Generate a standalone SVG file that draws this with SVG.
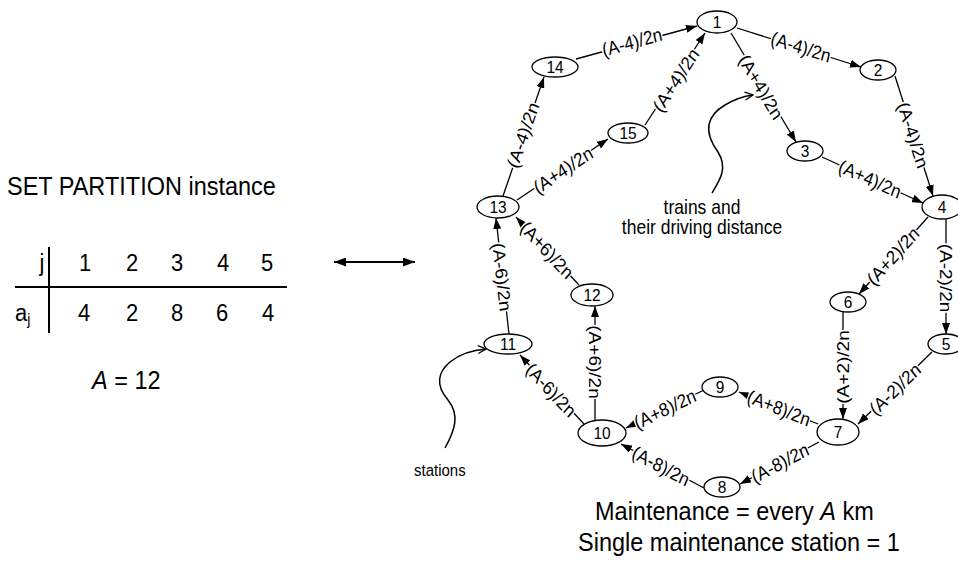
<svg xmlns="http://www.w3.org/2000/svg" width="958" height="578" viewBox="0 0 958 578">
<style>
text{font-family:"Liberation Sans",Arial,sans-serif;fill:#000}
.node ellipse{fill:#fff;stroke:#000;stroke-width:1.3}
.node text{font-size:15.5px;text-anchor:middle}
.edge{stroke:#000;stroke-width:1.3;fill:none;marker-end:url(#ah)}
.lbl rect{fill:#fff}
.lbl text{font-size:17px;text-anchor:middle}
.big{font-size:23.5px}
.tbl{font-size:22px;text-anchor:middle}
.mid{text-anchor:middle}
.curve{stroke:#000;stroke-width:1.5;fill:none;marker-end:url(#oa)}
</style>
<defs>
<marker id="ah" viewBox="0 0 11 8" refX="11" refY="4" markerWidth="11" markerHeight="8" orient="auto" markerUnits="userSpaceOnUse"><path d="M0,0 L11,4 L0,8 z" fill="#000"/></marker>
<marker id="ah2" viewBox="0 0 12 9" refX="12" refY="4.5" markerWidth="12" markerHeight="9" orient="auto-start-reverse" markerUnits="userSpaceOnUse"><path d="M0,0 L12,4.5 L0,9 z" fill="#000"/></marker>
<marker id="oa" viewBox="0 0 10 10" refX="9" refY="5" markerWidth="10" markerHeight="10" orient="auto" markerUnits="userSpaceOnUse"><path d="M1,1 L9,5 L1,9" fill="none" stroke="#000" stroke-width="1.3"/></marker>
</defs>
<rect width="958" height="578" fill="#fff"/>

<g id="left-panel">
<text class="big" transform="translate(7,194.5) scale(1,1.12)">SET PARTITION instance</text>
<line x1="49" y1="247" x2="49" y2="333" stroke="#000" stroke-width="2"/>
<line x1="15" y1="287" x2="287" y2="287" stroke="#000" stroke-width="2"/>
<text class="tbl" transform="translate(42,271) scale(1,1.12)">j</text>
<text class="tbl" transform="translate(85,271) scale(1,1.12)">1</text>
<text class="tbl" transform="translate(132,271) scale(1,1.12)">2</text>
<text class="tbl" transform="translate(177,271) scale(1,1.12)">3</text>
<text class="tbl" transform="translate(223,271) scale(1,1.12)">4</text>
<text class="tbl" transform="translate(267,271) scale(1,1.12)">5</text>
<text style="font-size:22px" transform="translate(15,321) scale(1,1.12)">a<tspan font-size="14" dy="4">j</tspan></text>
<text class="tbl" transform="translate(84,321) scale(1,1.12)">4</text>
<text class="tbl" transform="translate(132,321) scale(1,1.12)">2</text>
<text class="tbl" transform="translate(177,321) scale(1,1.12)">8</text>
<text class="tbl" transform="translate(222,321) scale(1,1.12)">6</text>
<text class="tbl" transform="translate(268,321) scale(1,1.12)">4</text>
<text class="big" transform="translate(92,389) scale(1,1.12)"><tspan font-style="italic">A</tspan> = 12</text>
<line x1="334" y1="262" x2="415" y2="262" stroke="#000" stroke-width="2" marker-start="url(#ah2)" marker-end="url(#ah2)"/>
</g>

<g id="connectors">
<line class="edge" x1="576" y1="59" x2="697" y2="26"/>
<line class="edge" x1="737" y1="28" x2="861" y2="67"/>
<line class="edge" x1="731" y1="33" x2="796" y2="142"/>
<line class="edge" x1="895" y1="76" x2="933" y2="196"/>
<line class="edge" x1="822" y1="157" x2="923" y2="203"/>
<line class="edge" x1="946" y1="219" x2="946" y2="334"/>
<line class="edge" x1="928" y1="217" x2="859" y2="294"/>
<line class="edge" x1="843" y1="312" x2="843" y2="419"/>
<line class="edge" x1="932" y1="352" x2="858" y2="424"/>
<line class="edge" x1="818" y1="424" x2="739" y2="392"/>
<line class="edge" x1="819" y1="442" x2="740" y2="484"/>
<line class="edge" x1="704" y1="390" x2="626" y2="428"/>
<line class="edge" x1="704" y1="488" x2="621" y2="444"/>
<line class="edge" x1="584" y1="424" x2="520" y2="355"/>
<line class="edge" x1="595" y1="420" x2="595" y2="306"/>
<line class="edge" x1="579" y1="285" x2="516" y2="217"/>
<line class="edge" x1="509" y1="334" x2="496" y2="218"/>
<line class="edge" x1="503" y1="196" x2="544" y2="77"/>
<line class="edge" x1="517" y1="200" x2="608" y2="139"/>
<line class="edge" x1="645" y1="125" x2="705" y2="33"/>
<path class="curve" d="M712,193 C720,180 728,168 718,152 C702,130 708,115 725,105 C735,99 745,96 753,95"/>
<path class="curve" d="M445,448 C455,430 460,415 448,400 C435,385 438,372 450,362 C460,354 472,350 486,349"/>
</g>

<g id="labels">
<g class="lbl" transform="translate(632,42) scale(1,1.12) rotate(-13.9)"><rect x="-31" y="-7" width="62" height="14"/><text y="6">(A-4)/2n</text></g>
<g class="lbl" transform="translate(801,47) scale(1,1.12) rotate(15.8)"><rect x="-31" y="-7" width="62" height="14"/><text y="6">(A-4)/2n</text></g>
<g class="lbl" transform="translate(761,87) scale(1,1.12) rotate(56.7)"><rect x="-33" y="-7" width="66" height="14"/><text y="6">(A+4)/2n</text></g>
<g class="lbl" transform="translate(913,135) scale(1,1.12) rotate(70.4)"><rect x="-31" y="-7" width="62" height="14"/><text y="6">(A-4)/2n</text></g>
<g class="lbl" transform="translate(870,179) scale(1,1.12) rotate(22.1)"><rect x="-33" y="-7" width="66" height="14"/><text y="6">(A+4)/2n</text></g>
<g class="lbl" transform="translate(946,278) scale(1,1.12) rotate(90)"><rect x="-31" y="-7" width="62" height="14"/><text y="6">(A-2)/2n</text></g>
<g class="lbl" transform="translate(893,256) scale(1,1.12) rotate(-44.8)"><rect x="-33" y="-7" width="66" height="14"/><text y="6">(A+2)/2n</text></g>
<g class="lbl" transform="translate(843,367) scale(1,1.12) rotate(-90)"><rect x="-33" y="-7" width="66" height="14"/><text y="6">(A+2)/2n</text></g>
<g class="lbl" transform="translate(895,389) scale(1,1.12) rotate(-41)"><rect x="-31" y="-7" width="62" height="14"/><text y="6">(A-2)/2n</text></g>
<g class="lbl" transform="translate(779,408) scale(1,1.12) rotate(19.8)"><rect x="-33" y="-7" width="66" height="14"/><text y="6">(A+8)/2n</text></g>
<g class="lbl" transform="translate(780,463) scale(1,1.12) rotate(-25.4)"><rect x="-31" y="-7" width="62" height="14"/><text y="6">(A-8)/2n</text></g>
<g class="lbl" transform="translate(665,409) scale(1,1.12) rotate(-23.5)"><rect x="-33" y="-7" width="66" height="14"/><text y="6">(A+8)/2n</text></g>
<g class="lbl" transform="translate(661,466) scale(1,1.12) rotate(25.4)"><rect x="-31" y="-7" width="62" height="14"/><text y="6">(A-8)/2n</text></g>
<g class="lbl" transform="translate(551,390) scale(1,1.12) rotate(43.8)"><rect x="-31" y="-7" width="62" height="14"/><text y="6">(A-6)/2n</text></g>
<g class="lbl" transform="translate(595,362) scale(1,1.12) rotate(90)"><rect x="-33" y="-7" width="66" height="14"/><text y="6">(A+6)/2n</text></g>
<g class="lbl" transform="translate(547,250) scale(1,1.12) rotate(44)"><rect x="-33" y="-7" width="66" height="14"/><text y="6">(A+6)/2n</text></g>
<g class="lbl" transform="translate(502,277) scale(1,1.12) rotate(82.8)"><rect x="-31" y="-7" width="62" height="14"/><text y="6">(A-6)/2n</text></g>
<g class="lbl" transform="translate(523,135) scale(1,1.12) rotate(-68.9)"><rect x="-31" y="-7" width="62" height="14"/><text y="6">(A-4)/2n</text></g>
<g class="lbl" transform="translate(563,170) scale(1,1.12) rotate(-30.9)"><rect x="-33" y="-7" width="66" height="14"/><text y="6">(A+4)/2n</text></g>
<g class="lbl" transform="translate(676,80) scale(1,1.12) rotate(-53.9)"><rect x="-33" y="-7" width="66" height="14"/><text y="6">(A+4)/2n</text></g>
</g>

<g id="node-1" class="node"><ellipse cx="717" cy="22" rx="20" ry="11"/><text transform="translate(717,28.2) scale(1,1.12)">1</text></g>
<g id="node-2" class="node"><ellipse cx="878" cy="70" rx="18" ry="10"/><text transform="translate(878,76.2) scale(1,1.12)">2</text></g>
<g id="node-3" class="node"><ellipse cx="805" cy="151" rx="18" ry="10"/><text transform="translate(805,157.2) scale(1,1.12)">3</text></g>
<g id="node-4" class="node"><ellipse cx="942" cy="207" rx="20" ry="12"/><text transform="translate(942,213.2) scale(1,1.12)">4</text></g>
<g id="node-5" class="node"><ellipse cx="946" cy="344" rx="18" ry="10"/><text transform="translate(946,350.2) scale(1,1.12)">5</text></g>
<g id="node-6" class="node"><ellipse cx="848" cy="302" rx="18" ry="10"/><text transform="translate(848,308.2) scale(1,1.12)">6</text></g>
<g id="node-7" class="node"><ellipse cx="838" cy="432" rx="21" ry="13"/><text transform="translate(838,438.2) scale(1,1.12)">7</text></g>
<g id="node-8" class="node"><ellipse cx="722" cy="487" rx="18" ry="10"/><text transform="translate(722,493.2) scale(1,1.12)">8</text></g>
<g id="node-9" class="node"><ellipse cx="720" cy="387" rx="18" ry="10"/><text transform="translate(720,393.2) scale(1,1.12)">9</text></g>
<g id="node-10" class="node"><ellipse cx="602" cy="433" rx="24" ry="13"/><text transform="translate(602,439.2) scale(1,1.12)">10</text></g>
<g id="node-11" class="node"><ellipse cx="508" cy="344" rx="24" ry="10"/><text transform="translate(508,350.2) scale(1,1.12)">11</text></g>
<g id="node-12" class="node"><ellipse cx="592" cy="295" rx="21" ry="11"/><text transform="translate(592,301.2) scale(1,1.12)">12</text></g>
<g id="node-13" class="node"><ellipse cx="498" cy="207" rx="21" ry="11"/><text transform="translate(498,213.2) scale(1,1.12)">13</text></g>
<g id="node-14" class="node"><ellipse cx="555" cy="67" rx="23" ry="10"/><text transform="translate(555,73.2) scale(1,1.12)">14</text></g>
<g id="node-15" class="node"><ellipse cx="628" cy="133" rx="20" ry="10"/><text transform="translate(628,139.2) scale(1,1.12)">15</text></g>

<g id="annotations">
<text class="mid" style="font-size:17.5px" transform="translate(702,214) scale(1,1.12)">trains and</text>
<text class="mid" style="font-size:17.5px" transform="translate(702,234) scale(1,1.12)">their driving distance</text>
<text style="font-size:15px" transform="translate(414,476) scale(1,1.12)">stations</text>
<text class="big" transform="translate(595,520) scale(1,1.12)">Maintenance = every <tspan font-style="italic">A</tspan> km</text>
<text class="big" transform="translate(578,551) scale(1,1.12)">Single maintenance station = 1</text>
</g>
</svg>
